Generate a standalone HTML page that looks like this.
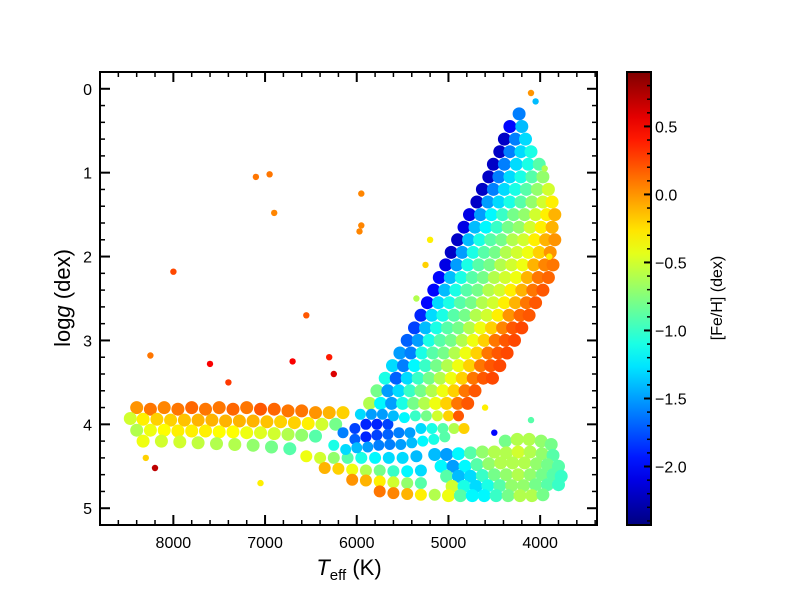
<!DOCTYPE html>
<html><head><meta charset="utf-8"><style>
body{margin:0;background:#fff}
svg text{font-family:"Liberation Sans","DejaVu Sans",sans-serif;fill:#000}
</style></head><body>
<svg id="fig" width="800" height="600" xmlns="http://www.w3.org/2000/svg">
<rect width="800" height="600" fill="#fff"/>
<defs><linearGradient id="cbg" x1="0" y1="1" x2="0" y2="0"></linearGradient>
<clipPath id="clip"><rect x="100" y="72" width="497" height="453"/></clipPath></defs>
<g id="dots" clip-path="url(#clip)"></g>
<g id="axes"></g>
<text x="0" y="0" font-size="22" transform="translate(70,298) rotate(-90)" text-anchor="middle">log<tspan font-style="italic">g</tspan> (dex)</text>
<text x="349" y="575" font-size="22" text-anchor="middle"><tspan font-style="italic">T</tspan><tspan font-size="15" dy="5">eff</tspan><tspan dy="-5"> (K)</tspan></text>
<rect x="627" y="72" width="24" height="453" fill="url(#cbg)"/>
<g id="cbaxis"></g>
<text font-size="16" transform="translate(722,298) rotate(-90)" text-anchor="middle">[Fe/H] (dex)</text>
</svg>
<script>
// ---- data: [Teff, logg, [Fe/H]] ----
const giantBranch = [
[4230,0.3,-1.6],[4330,0.45,-2.0],[4200,0.45,-1.4],
[4390,0.6,-2.2],[4270,0.6,-1.6],[4160,0.6,-1.3],
[4440,0.75,-2.2],[4330,0.75,-1.6],[4210,0.75,-1.3],[4100,0.75,-1.1],
[4510,0.9,-2.2],[4390,0.9,-1.6],[4260,0.9,-1.3],[4130,0.9,-1.1],[4010,0.9,-0.9],
[4560,1.05,-2.2],[4450,1.05,-1.6],[4330,1.05,-1.3],[4210,1.05,-1.1],[4090,1.05,-0.9],[3970,1.05,-0.7],
[4630,1.2,-2.2],[4510,1.2,-1.6],[4390,1.2,-1.3],[4270,1.2,-1.1],[4150,1.2,-0.9],[4030,1.2,-0.7],[3910,1.2,-0.5],
[4690,1.35,-2.2],[4570,1.35,-1.5],[4450,1.35,-1.3],[4330,1.35,-1.1],[4210,1.35,-0.9],[4090,1.35,-0.7],[3970,1.35,-0.5],[3870,1.35,-0.3],
[4770,1.5,-2.1],[4650,1.5,-1.5],[4530,1.5,-1.2],[4410,1.5,-1.0],[4290,1.5,-0.8],[4170,1.5,-0.7],[4050,1.5,-0.5],[3930,1.5,-0.3],[3840,1.5,-0.1],
[4830,1.65,-2.1],[4710,1.65,-1.4],[4590,1.65,-1.2],[4470,1.65,-1.0],[4350,1.65,-0.8],[4230,1.65,-0.7],[4110,1.65,-0.5],[3990,1.65,-0.3],[3870,1.65,-0.1],
[4900,1.8,-2.2],[4780,1.8,-1.4],[4660,1.8,-1.1],[4540,1.8,-0.9],[4420,1.8,-0.8],[4300,1.8,-0.6],[4180,1.8,-0.5],[4060,1.8,-0.3],[3940,1.8,-0.1],[3840,1.8,0.0],
[4970,1.95,-2.2],[4850,1.95,-1.5],[4730,1.95,-1.1],[4610,1.95,-0.9],[4490,1.95,-0.8],[4370,1.95,-0.6],[4250,1.95,-0.5],[4130,1.95,-0.4],[4010,1.95,-0.2],[3890,1.95,0.0],
[5030,2.1,-2.1],[4910,2.1,-1.5],[4790,2.1,-1.1],[4670,2.1,-0.9],[4550,2.1,-0.8],[4430,2.1,-0.6],[4310,2.1,-0.5],[4190,2.1,-0.4],[4070,2.1,-0.1],[3950,2.1,0.05],[3860,2.1,0.1],
[5100,2.25,-2.0],[4980,2.25,-1.4],[4860,2.25,-1.1],[4740,2.25,-0.9],[4620,2.25,-0.8],[4500,2.25,-0.6],[4380,2.25,-0.5],[4260,2.25,-0.4],[4140,2.25,-0.1],[4020,2.25,0.1],[3910,2.25,0.15],
[5160,2.4,-2.0],[5040,2.4,-1.4],[4920,2.4,-1.1],[4800,2.4,-0.9],[4680,2.4,-0.8],[4560,2.4,-0.6],[4440,2.4,-0.5],[4320,2.4,-0.3],[4200,2.4,-0.1],[4080,2.4,0.1],[3970,2.4,0.2],
[5230,2.55,-2.0],[5110,2.55,-1.3],[4990,2.55,-1.1],[4870,2.55,-0.9],[4750,2.55,-0.8],[4630,2.55,-0.6],[4510,2.55,-0.5],[4390,2.55,-0.3],[4270,2.55,-0.1],[4150,2.55,0.1],[4050,2.55,0.2],
[5300,2.7,-1.9],[5180,2.7,-1.3],[5060,2.7,-1.1],[4940,2.7,-0.9],[4820,2.7,-0.8],[4700,2.7,-0.6],[4580,2.7,-0.5],[4460,2.7,-0.3],[4340,2.7,0.0],[4220,2.7,0.15],[4120,2.7,0.2],
[5370,2.85,-1.8],[5250,2.85,-1.4],[5130,2.85,-1.1],[5010,2.85,-0.9],[4890,2.85,-0.8],[4770,2.85,-0.6],[4650,2.85,-0.4],[4530,2.85,-0.2],[4410,2.85,0.05],[4300,2.85,0.2],[4200,2.85,0.25],
[5450,3.0,-1.7],[5330,3.0,-1.5],[5210,3.0,-1.1],[5090,3.0,-0.9],[4970,3.0,-0.8],[4850,3.0,-0.6],[4730,3.0,-0.4],[4610,3.0,-0.2],[4490,3.0,0.1],[4380,3.0,0.2],[4280,3.0,0.25],
[5530,3.15,-1.5],[5410,3.15,-1.6],[5290,3.15,-1.1],[5170,3.15,-0.9],[5050,3.15,-0.8],[4930,3.15,-0.6],[4810,3.15,-0.4],[4690,3.15,-0.2],[4570,3.15,0.1],[4460,3.15,0.2],[4360,3.15,0.25],
[5610,3.3,-1.3],[5490,3.3,-1.6],[5370,3.3,-1.2],[5250,3.3,-1.0],[5130,3.3,-0.8],[5010,3.3,-0.6],[4890,3.3,-0.4],[4770,3.3,-0.2],[4650,3.3,0.1],[4540,3.3,0.2],[4440,3.3,0.25],
[5690,3.45,-1.1],[5570,3.45,-1.7],[5450,3.45,-1.3],[5330,3.45,-1.0],[5210,3.45,-0.8],[5090,3.45,-0.6],[4970,3.45,-0.4],[4850,3.45,-0.2],[4730,3.45,0.1],[4620,3.45,0.2],[4520,3.45,0.25],
[5780,3.6,-0.8],[5660,3.6,-1.5],[5540,3.6,-1.3],[5420,3.6,-1.0],[5300,3.6,-0.8],[5180,3.6,-0.6],[5060,3.6,-0.4],[4940,3.6,-0.2],[4820,3.6,0.1],[4710,3.6,0.2],
[5860,3.75,-0.6],[5740,3.75,-1.2],[5620,3.75,-1.5],[5500,3.75,-1.1],[5380,3.75,-0.8],[5260,3.75,-0.6],[5140,3.75,-0.4],[5020,3.75,-0.2],[4900,3.75,0.1],[4790,3.75,0.2]
];
const hotStrip = [
[8400,3.8,0.0],[8250,3.82,0.1],[8100,3.8,0.05],[7950,3.82,0.1],[7800,3.8,0.15],[7650,3.82,0.1],[7500,3.8,0.1],[7350,3.82,0.15],[7200,3.8,0.1],[7050,3.82,0.2],[6900,3.82,0.15],[6750,3.84,0.1],[6600,3.84,0.1],[6450,3.86,0.0],[6300,3.86,-0.1],[6150,3.86,-0.2],
[8470,3.93,-0.5],[8330,3.94,-0.3],[8180,3.94,-0.2],[8030,3.95,-0.2],[7880,3.95,-0.15],[7730,3.95,-0.1],[7580,3.95,-0.1],[7430,3.96,-0.1],[7280,3.96,-0.1],[7130,3.96,-0.1],[6980,3.97,-0.15],[6830,3.97,-0.2],[6680,3.98,-0.2],[6530,3.99,-0.3],[6380,4.0,-0.5],[6230,4.0,-0.8],
[8400,4.07,-0.6],[8250,4.07,-0.4],[8100,4.07,-0.35],[7950,4.08,-0.3],[7800,4.08,-0.3],[7650,4.08,-0.3],[7500,4.09,-0.35],[7350,4.09,-0.35],[7200,4.1,-0.4],[7050,4.1,-0.45],[6900,4.11,-0.5],[6750,4.12,-0.6],[6600,4.13,-0.7],[6450,4.14,-0.9],
[8330,4.2,-0.4],[8130,4.2,-0.5],[7930,4.21,-0.5],[7730,4.22,-0.55],[7530,4.23,-0.6],[7330,4.24,-0.6],[7130,4.25,-0.7],[6930,4.27,-0.8],[6730,4.29,-0.9]
];
const blueClump = [
[6150,4.1,-1.6],[6020,4.05,-1.8],[5900,4.0,-1.9],[5780,4.0,-1.9],[5660,4.0,-1.8],[6020,4.18,-1.7],[5900,4.15,-1.9],[5780,4.13,-1.8],[5660,4.12,-1.7],[5540,4.1,-1.6],[5420,4.1,-1.5],
[5960,3.88,-1.3],[5840,3.88,-1.5],[5720,3.88,-1.5],[5600,3.9,-1.4],[5480,3.92,-1.2],[5360,3.9,-1.0],[5240,3.9,-0.8],[5120,3.9,-0.5],[5000,3.9,-0.2],[4890,3.9,0.2],
[6250,4.25,-1.1],[6120,4.3,-1.3],[6000,4.28,-1.4],[5880,4.27,-1.5],[5760,4.25,-1.6],[5640,4.24,-1.6],[5520,4.24,-1.5],[5400,4.22,-1.4],[5280,4.2,-1.2],[5160,4.18,-1.1],[5040,4.15,-0.9],
[5300,4.05,-1.3],[5180,4.05,-1.1],[5060,4.05,-0.9],[4940,4.05,-0.6],[4830,4.05,-0.2]
];
const lowerTail = [
[6550,4.38,-0.4],[6400,4.4,-0.5],[6250,4.4,-0.7],[6100,4.4,-0.9],[5950,4.4,-1.1],[5800,4.4,-1.2],[5650,4.4,-1.3],[5500,4.4,-1.3],[5350,4.38,-1.4],
[6350,4.52,-0.1],[6200,4.53,-0.2],[6050,4.54,-0.4],[5900,4.55,-0.6],[5750,4.55,-0.8],[5600,4.56,-1.0],[5450,4.56,-1.2],[5300,4.55,-1.3],
[6050,4.66,0.0],[5900,4.67,-0.1],[5750,4.68,-0.3],[5600,4.69,-0.5],[5450,4.7,-0.7],[5300,4.7,-0.9],
[5750,4.8,0.1],[5600,4.82,0.05],[5450,4.83,-0.1],[5300,4.84,-0.3],[5150,4.84,-0.6]
];
const dwarfs = [
[4380,4.2,-0.8],[4250,4.18,-0.6],[4120,4.18,-0.6],[3990,4.2,-0.7],[3880,4.24,-0.8],
[5150,4.36,-1.4],[5020,4.36,-1.5],[4890,4.35,-1.2],[4760,4.34,-0.9],[4630,4.33,-0.7],[4500,4.33,-0.6],[4370,4.34,-0.6],[4240,4.33,-0.5],[4110,4.33,-0.6],[3980,4.35,-0.7],[3860,4.37,-0.9],
[5080,4.5,-1.2],[4950,4.5,-1.5],[4820,4.5,-1.2],[4690,4.48,-0.9],[4560,4.47,-0.7],[4430,4.46,-0.6],[4300,4.46,-0.6],[4170,4.46,-0.6],[4040,4.47,-0.7],[3920,4.48,-0.8],[3800,4.5,-0.9],
[5020,4.62,-0.9],[4890,4.62,-1.4],[4760,4.62,-1.3],[4630,4.61,-1.0],[4500,4.6,-0.8],[4370,4.6,-0.7],[4240,4.6,-0.6],[4110,4.6,-0.7],[3980,4.6,-0.8],[3860,4.6,-0.9],[3770,4.62,-1.0],
[4960,4.74,-0.5],[4830,4.74,-1.1],[4700,4.74,-1.3],[4570,4.73,-1.1],[4440,4.73,-0.9],[4310,4.73,-0.7],[4180,4.73,-0.7],[4050,4.72,-0.8],[3920,4.72,-0.9],[3800,4.72,-1.0],
[5000,4.85,-0.4],[4870,4.85,-0.9],[4740,4.85,-1.2],[4610,4.85,-1.2],[4480,4.85,-1.0],[4350,4.85,-0.8],[4220,4.85,-0.6],[4090,4.85,-0.6],[3970,4.84,-0.8]
];
const outliers = [
[7100,1.05,0.1],[6950,1.02,0.1],[6900,1.48,0.05],[8000,2.18,0.25],[5950,1.25,0.05],[5950,1.63,0.05],[5970,1.7,0.05],
[6550,2.7,0.2],[4100,0.05,0.0],[4050,0.15,-1.4],[7050,4.7,-0.3],[8200,4.52,0.7],[8250,3.18,0.1],[7600,3.28,0.5],
[6700,3.25,0.5],[6250,3.4,0.6],[5200,1.8,-0.3],[5250,2.1,-0.2],[5350,2.5,-0.6],[4600,3.8,-0.3],
[3950,0.95,-0.6],[3900,2.0,-0.3],[6300,3.2,0.4],[7400,3.5,0.3],[8300,4.4,-0.2],[4500,4.1,-2.0],[4100,3.95,-0.9]
];
const xTicks = [8000,7000,6000,5000,4000];
const yTicks = [0,1,2,3,4,5];
const cbTicks = [0.5,0.0,-0.5,-1.0,-1.5,-2.0];

// ---- scales ----
const X0=100,X1=597,Y0=72,Y1=525;
const TMAX=8800,TMIN=3380,GMIN=-0.2,GMAX=5.2;
const FMIN=-2.43,FMAX=0.9;
function sx(t){return X0+(TMAX-t)/(TMAX-TMIN)*(X1-X0);}
function sy(g){return Y0+(g-GMIN)/(GMAX-GMIN)*(Y1-Y0);}
function cy(f){return Y1-(f-FMIN)/(FMAX-FMIN)*(Y1-Y0);}
function jet(v){
  const c=x=>Math.max(0,Math.min(1,x));
  const r=c(Math.min(4*v-1.5,-4*v+4.5)),g=c(Math.min(4*v-0.5,-4*v+3.5)),b=c(Math.min(4*v+0.5,-4*v+2.5));
  return `rgb(${Math.round(r*255)},${Math.round(g*255)},${Math.round(b*255)})`;
}
function fcol(f){return jet((f-FMIN)/(FMAX-FMIN));}
const NS="http://www.w3.org/2000/svg";
function mk(tag,attrs,parent){const e=document.createElementNS(NS,tag);for(const k in attrs)e.setAttribute(k,attrs[k]);parent.appendChild(e);return e;}

const dots=document.getElementById('dots');
function drawSet(arr,r,name){
  arr.forEach(p=>{
    const c=mk('circle',{cx:sx(p[0]).toFixed(1),cy:sy(p[1]).toFixed(1),r:r,fill:fcol(p[2])},dots);
    
    
  });
}
drawSet(hotStrip,6.5,'hot-star-point');
drawSet(lowerTail,6,'tail-star-point');
drawSet(dwarfs,6.5,'dwarf-star-point');
drawSet(giantBranch,6.5,'giant-star-point');
drawSet(blueClump,5.5,'metal-poor-point');
drawSet(outliers,3.2,'outlier-point');

// ---- axes ----
const ax=document.getElementById('axes');
mk('rect',{x:X0,y:Y0,width:X1-X0,height:Y1-Y0,fill:'none',stroke:'#000','stroke-width':2},ax);
for(let t=3400;t<=8800;t+=200){
  const x=sx(t),maj=t%1000===0,L=maj?10:5;
  mk('line',{x1:x,y1:Y1,x2:x,y2:Y1-L,stroke:'#000','stroke-width':maj?2:1.5},ax);
  mk('line',{x1:x,y1:Y0,x2:x,y2:Y0+L,stroke:'#000','stroke-width':maj?2:1.5},ax);
}
xTicks.forEach(t=>{
  const e=mk('text',{x:sx(t),y:Y1+23,'font-size':16,'text-anchor':'middle'},ax);e.textContent=t;
  
  
});
for(let i=-1;i<=26;i++){
  const g=i*0.2;if(g<GMIN||g>GMAX)continue;
  const y=sy(g),maj=i%5===0,L=maj?10:5;
  mk('line',{x1:X0,y1:y,x2:X0+L,y2:y,stroke:'#000','stroke-width':maj?2:1.5},ax);
  mk('line',{x1:X1,y1:y,x2:X1-L,y2:y,stroke:'#000','stroke-width':maj?2:1.5},ax);
}
yTicks.forEach(g=>{
  const e=mk('text',{x:X0-8,y:sy(g)+6,'font-size':16,'text-anchor':'end'},ax);e.textContent=g;
  
  
});

// ---- colorbar ----
const grad=document.getElementById('cbg');
for(let i=0;i<=20;i++){mk('stop',{offset:(i/20),'stop-color':jet(i/20)},grad);}
const cb=document.getElementById('cbaxis');
mk('rect',{x:627,y:Y0,width:24,height:Y1-Y0,fill:'none',stroke:'#000','stroke-width':2},cb);
for(let i=-24;i<=9;i++){
  const f=i/10,y=cy(f),maj=i%5===0,L=maj?7:4;
  mk('line',{x1:651,y1:y,x2:651-L,y2:y,stroke:'#000','stroke-width':maj?2:1.5},cb);
}
cbTicks.forEach(f=>{
  const e=mk('text',{x:655,y:cy(f)+6,'font-size':16},cb);
  e.textContent=(f<0?'\u2212':'')+Math.abs(f).toFixed(1);
  
  
});
</script>
</body></html>
